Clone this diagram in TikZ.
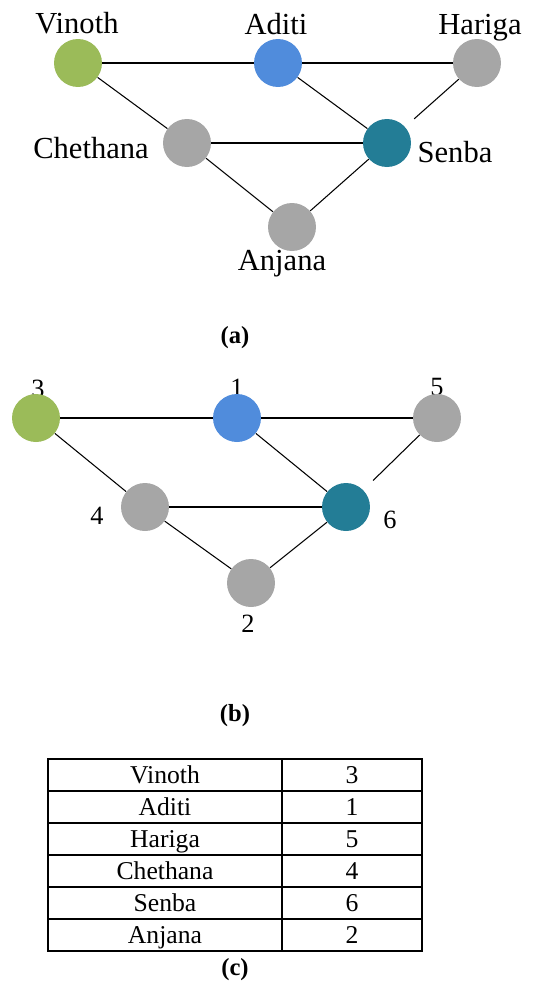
\documentclass[tikz,border=0pt]{standalone}
\usepackage{fontspec}
\setmainfont{Liberation Serif}
\definecolor{vgreen}{RGB}{155,187,89}
\definecolor{vblue}{RGB}{80,140,220}
\definecolor{vteal}{RGB}{35,125,150}
\definecolor{vgray}{RGB}{166,166,166}
\tikzset{
  vtx/.style={circle,minimum size=0.96cm,inner sep=0pt},
  name label/.style={anchor=base,inner sep=0pt,font=\fontsize{17.4}{20}\selectfont},
  num label/.style={anchor=base,inner sep=0pt,font=\fontsize{15}{18}\selectfont},
  cap label/.style={anchor=base,inner sep=0pt,font=\fontsize{14}{16}\selectfont\bfseries},
  cell/.style={anchor=base,inner sep=0pt,font=\fontsize{14.6}{17}\selectfont},
  edge/.style={line width=0.6pt},
}
\begin{document}
\begin{tikzpicture}[x=0.02cm,y=-0.02cm]
\useasboundingbox (0,0) rectangle (537,981);
% (a) names
\node[name label] (lv) at (77,33) {Vinoth};
\node[name label] (la) at (276,34) {Aditi};
\node[name label] (lh) at (480,34) {Hariga};
\node[name label] (lc) at (91,158) {Chethana};
\node[name label] (ls) at (455,162) {Senba};
\node[name label] (lj) at (282,270) {Anjana};
\node[vtx,fill=vgreen] (v) at (78,63) {};
\node[vtx,fill=vblue] (a) at (278,63) {};
\node[vtx,fill=vgray] (h) at (477,63) {};
\node[vtx,fill=vgray] (c) at (187,143) {};
\node[vtx,fill=vteal] (s) at (387,143) {};
\node[vtx,fill=vgray] (j) at (292,227) {};
\draw[edge,line width=0.8pt] (v) -- (a) -- (h);
\draw[edge] (v) -- (c);
\draw[edge] (a) -- (s);
\draw[edge,shorten >=0.24cm] (h) -- (s);
\draw[edge,line width=0.8pt] (c) -- (s);
\draw[edge] (c) -- (j);
\draw[edge] (s) -- (j);
\node[cap label] (capa) at (235,343) {(a)};
% (b) numbers
\node[num label] (n3) at (38,397) {3};
\node[num label] (n1) at (237,396) {1};
\node[num label] (n5) at (437,395) {5};
\node[num label] (n4) at (97,524) {4};
\node[num label] (n6) at (390,528) {6};
\node[num label] (n2) at (248,632) {2};
\node[vtx,fill=vgreen] (b3) at (36,418) {};
\node[vtx,fill=vblue] (b1) at (237,418) {};
\node[vtx,fill=vgray] (b5) at (437,418) {};
\node[vtx,fill=vgray] (b4) at (145,507) {};
\node[vtx,fill=vteal] (b6) at (346,507) {};
\node[vtx,fill=vgray] (b2) at (251,583) {};
\draw[edge,line width=0.8pt] (b3) -- (b1) -- (b5);
\draw[edge] (b3) -- (b4);
\draw[edge] (b1) -- (b6);
\draw[edge,shorten >=0.27cm] (b5) -- (b6);
\draw[edge,line width=0.8pt] (b4) -- (b6);
\draw[edge] (b4) -- (b2);
\draw[edge] (b6) -- (b2);
\node[cap label] (capb) at (235,721) {(b)};
% (c) table
\draw[line width=1.1pt] (48,759) rectangle (422,951);
\draw[line width=1.1pt] (282,759) -- (282,951);
\foreach \y in {1,...,5} \draw[line width=1.1pt] (48,759+32*\y) -- (422,759+32*\y);
\foreach \nm/\nr [count=\i from 0] in {Vinoth/3,Aditi/1,Hariga/5,Chethana/4,Senba/6,Anjana/2}{
  \node[cell] (t\i) at (165,783+32*\i) {\nm};
  \node[cell] (u\i) at (352,783+32*\i) {\nr};
}
\node[cap label] (capc) at (235,975) {(c)};
\end{tikzpicture}
\end{document}
